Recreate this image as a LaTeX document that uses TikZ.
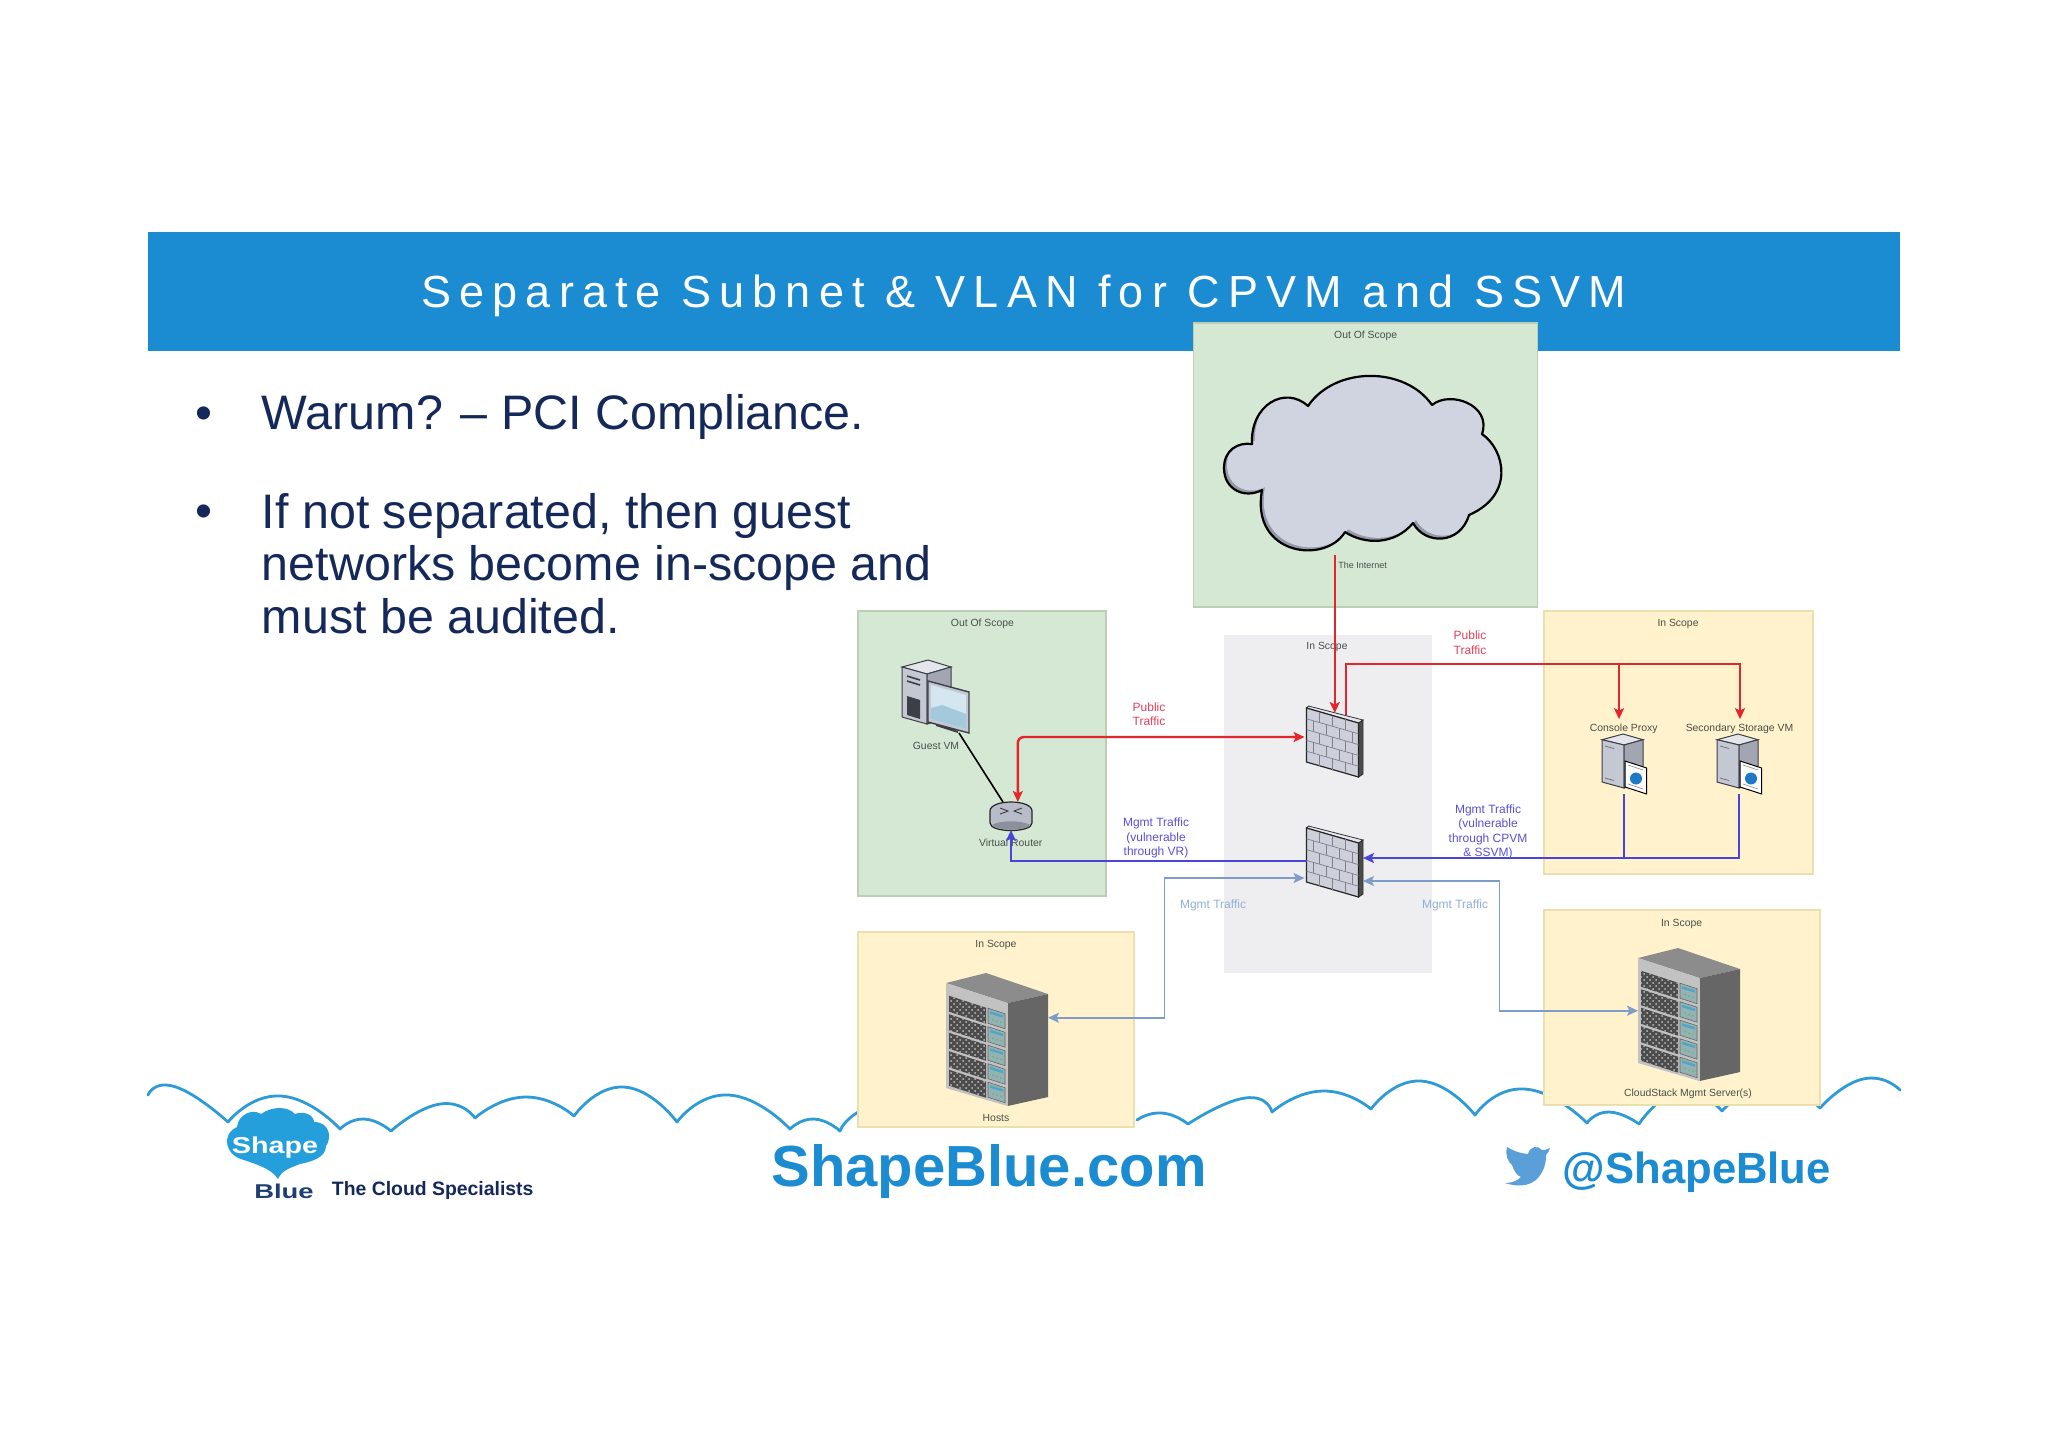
\documentclass[tikz,border=0pt]{standalone}
\usepackage{fontspec}
\setmainfont{Liberation Sans}
\newfontfamily\titlef{Liberation Sans}[LetterSpace=18]
\usetikzlibrary{arrows.meta,fit,patterns}
\definecolor{hdr}{HTML}{1B8BD2}
\definecolor{navy}{HTML}{14285A}
\definecolor{logob}{HTML}{1F3F73}
\definecolor{logoc}{HTML}{259FDC}
\definecolor{bird}{HTML}{5B9FD8}
\definecolor{scal}{HTML}{2E9BD6}
\definecolor{gfill}{HTML}{D5E8D4}
\definecolor{gline}{HTML}{BCCFB4}
\definecolor{yfill}{HTML}{FFF2CC}
\definecolor{yline}{HTML}{EADFAE}
\definecolor{grayz}{HTML}{EEEEF0}
\definecolor{redl}{HTML}{E3262B}
\definecolor{redt}{HTML}{E0405A}
\definecolor{bluel}{HTML}{4A44D8}
\definecolor{bluet}{HTML}{5A50D8}
\definecolor{lbl}{HTML}{7F9CC8}
\definecolor{lbt}{HTML}{8FAFD8}
\definecolor{txt}{HTML}{4A4F4A}
\definecolor{brick}{HTML}{CDD0DA}
\definecolor{bricktop}{HTML}{E6E8EE}
\definecolor{brickline}{HTML}{7E818C}
\definecolor{cloudf}{HTML}{D0D3E0}
\definecolor{cloudd}{HTML}{9499A8}
\definecolor{srvtop}{HTML}{E4E6EC}
\definecolor{srvleft}{HTML}{C4C8D2}
\definecolor{srvright}{HTML}{A2A6B2}
\definecolor{srvdark}{HTML}{3C3F48}
\definecolor{screenA}{HTML}{D4E6F0}
\definecolor{screenB}{HTML}{A4C8DC}
\definecolor{globe}{HTML}{1F78C4}
\definecolor{panel}{HTML}{93B2B2}
\definecolor{panelbar}{HTML}{4FA6C8}
\definecolor{paneldot}{HTML}{6CA886}
\definecolor{rtrf}{HTML}{B8BCC8}
\definecolor{rtrd}{HTML}{8C909C}
\newcommand{\px}[2]{\fontsize{#1}{#2}\selectfont}
\tikzset{
  region/.style={inner sep=0pt,outer sep=0pt,line width=0.8pt},
  ok/.style={region,fill=gfill,draw=gline},
  scoped/.style={region,fill=yfill,draw=yline},
  grayzone/.style={region,fill=grayz},
  icon/.style={inner sep=0pt,outer sep=0pt},
  small/.style={text=txt,font=\px{5.2}{6},inner sep=0pt,yshift=-0.7pt},
  traffic/.style={font=\px{6}{7.2},inner sep=0pt,align=center},
  tip/.style={-{Stealth[length=5.5pt,width=5pt,inset=1.2pt]}},
  both/.style={{Stealth[length=5.5pt,width=5pt,inset=1.2pt]}-{Stealth[length=5.5pt,width=5pt,inset=1.2pt]}},
  redc/.style={draw=redl,line width=1.1pt},
  bluec/.style={draw=bluel,line width=1pt},
  lbc/.style={draw=lbl,line width=0.8pt},
  scallop/.style={draw=scal,line width=1.4pt,line cap=round},
  firewall/.pic={
    \fill[draw=black!80,line width=.4pt,fill=bricktop] (0,2)--(2,0)--(56.5,14)--(52,17)--cycle;
    \fill[draw=black!80,line width=.4pt,fill=black!70] (52,17)--(56.5,14)--(56.5,68)--(52,71)--cycle;
    \fill[draw=black!85,line width=.6pt,fill=brick] (0,2)--(52,17)--(52,71)--(0,56)--cycle;
    \foreach \r in {1,2,3,4}{\pgfmathsetmacro\yy{2+10.8*\r}\pgfmathsetmacro\zz{17+10.8*\r}
      \draw[brickline,line width=.35pt] (0,\yy)--(52,\zz);}
    \foreach \r/\xa/\xb/\xc/\xd in {0/13/26/39/39,1/6.5/19.5/32.5/45.5,2/13/26/39/39,3/6.5/19.5/32.5/45.5,4/13/26/39/39}{
      \foreach \q in {\xa,\xb,\xc,\xd}{\pgfmathsetmacro\ya{2+10.8*\r+\q*0.288}\pgfmathsetmacro\yb{\ya+10.8}
        \draw[brickline,line width=.35pt] (\q,\ya)--(\q,\yb);}}
  },
  rack/.pic={
    \fill[fill=black!45] (0,10)--(40,0)--(102,21)--(61.5,30)--cycle;
    \fill[fill=black!60] (61.5,30)--(102,21)--(102,124)--(61.5,133)--cycle;
    \fill[fill=black!24] (0,10)--(61.5,30)--(61.5,133)--(0,115)--cycle;
    \foreach \i in {0,...,4}{\pgfmathsetmacro\dy{21.7+18.5*\i}
      \path[fill=black!70] (3,\dy+1)--(40,\dy+13)--(40,\dy+29)--(3,\dy+17)--cycle;
      \path[pattern=crosshatch dots,pattern color=black!25] (3,\dy+1)--(40,\dy+13)--(40,\dy+29)--(3,\dy+17)--cycle;
      \fill[draw=black!60,line width=.3pt,fill=panel] (42,\dy+13.5)--(59,\dy+19)--(59,\dy+34)--(42,\dy+28.5)--cycle;
      \fill[fill=panelbar] (44,\dy+16.5)--(57,\dy+20.5)--(57,\dy+23)--(44,\dy+19)--cycle;
      \fill[fill=paneldot] (47,\dy+25) circle (.8) (51,\dy+26.5) circle (.8) (55,\dy+27.5) circle (.8);
    }
  },
  proxy/.pic={
    \fill[draw=srvdark,line width=.5pt,fill=srvtop] (0,5.7)--(21,0)--(41,5.7)--(22,11)--cycle;
    \fill[draw=srvdark,line width=.5pt,fill=srvleft] (0,5.7)--(22,11)--(22,54)--(0,48)--cycle;
    \fill[draw=srvdark,line width=.5pt,fill=srvright] (22,11)--(41,5.7)--(41,48)--(22,54)--cycle;
    \draw[black!55,line width=.4pt] (3,12)--(12,14.5) (3,44)--(12,46.5);
    \fill[draw=black,line width=.5pt,fill=white] (23,27)--(44.7,34)--(44.7,60)--(23,53)--cycle;
    \draw[black!50,line width=.3pt] (26,31)--(41,36) (26,50)--(41,55);
    \fill[globe] (34,44.5) circle (6);
  },
  guest/.pic={
    \fill[draw=srvdark,line width=.5pt,fill=srvtop] (0,7)--(26,0)--(49,7)--(25,14)--cycle;
    \fill[draw=srvdark,line width=.5pt,fill=srvleft] (0,7)--(25,14)--(25,64)--(0,57)--cycle;
    \fill[draw=srvdark,line width=.5pt,fill=srvright] (25,14)--(49,7)--(49,57)--(25,64)--cycle;
    \draw[srvdark,line width=.8pt] (5,16)--(18,20) (5,21)--(18,25);
    \fill[srvdark] (5,36)--(18,40)--(18,59)--(5,55)--cycle;
    \fill[srvdark] (34,63)--(56,71)--(56,73)--(34,66)--cycle;
    \fill[draw=srvdark,line width=.7pt,fill=srvleft] (26,21)--(67,32)--(67,73)--(26,62)--cycle;
    \fill[fill=screenA] (29,25)--(64,35)--(64,69)--(29,59)--cycle;
    \fill[fill=screenB] (29,48)--(40,45)--(64,54)--(64,69)--(29,59)--cycle;
  },
}
\def\cloudshape{(1308,406) .. controls (1335,366) and (1405,366) .. (1432,405)
  .. controls (1450,390) and (1492,405) .. (1482,434)
  .. controls (1505,450) and (1515,495) .. (1469,515)
  .. controls (1460,545) and (1425,545) .. (1413,523)
  .. controls (1395,545) and (1365,545) .. (1345,532)
  .. controls (1325,565) and (1250,555) .. (1262,490)
  .. controls (1245,499) and (1224,490) .. (1224,468)
  .. controls (1224,450) and (1238,442) .. (1252,444)
  .. controls (1250,405) and (1285,385) .. cycle}
\begin{document}
\begin{tikzpicture}[x=0.5pt,y=-0.5pt]
\useasboundingbox (0,0) rectangle (2048,1448);
\fill[white] (0,0) rectangle (2048,1448);
% header
\node[fit={(148,232)(1900,351)},inner sep=0pt,outer sep=0pt,fill=hdr] (header) {};
\node[text=white,inner sep=0pt] (title) at (1024,296) {\titlef\px{22.5}{27}Separate Subnet \& VLAN for CPVM and SSVM};
% body text
\node[text=navy,inner sep=0pt,font=\px{24.2}{28}] (b1) at (204,418) {•};
\node[text=navy,inner sep=0pt,font=\px{24.2}{28}] (b2) at (204,516) {•};
\node[text=navy,inner sep=0pt,anchor=west,font=\px{24.2}{28}] (t1) at (261.5,417) {Warum? – PCI Compliance.};
\node[text=navy,inner sep=0pt,anchor=west,align=left,font=\px{24.2}{26.25}] (t2) at (261.5,563.5) {If not separated, then guest\\networks become in-scope and\\must be audited.};
% footer scallops
\foreach \xa/\ya/\xp/\yp/\xb/\yb in {
 148/1095/176/1087/228/1122, 228/1122/281/1096/340/1129, 340/1129/364/1119/391/1131,
 391/1131/440/1104/475/1118, 475/1118/525/1097/574/1116, 574/1116/624/1087/677/1122,
 677/1122/729/1095/790/1129, 790/1129/814/1119/840/1131, 840/1131/860/1111/900/1098,
 1137/1120/1162/1113/1188/1124, 1188/1124/1245/1098/1272/1112, 1272/1112/1322/1091/1371/1109,
 1371/1109/1421/1081/1475/1115, 1475/1115/1525/1089/1587/1123, 1587/1123/1609/1112/1639/1124,
 1639/1124/1680/1092/1722/1111, 1722/1111/1770/1085/1820/1108, 1820/1108/1863/1079/1900/1090}{
  \draw[scallop] plot[smooth,tension=1] coordinates {(\xa,\ya)(\xp,\yp)(\xb,\yb)};
}
% logo
\fill[fill=logoc] (278,1179) .. controls (272,1170) and (262,1166) .. (244,1160)
  .. controls (226,1156) and (220,1135) .. (237,1127)
  .. controls (238,1115) and (252,1108) .. (261,1114)
  .. controls (272,1106) and (288,1106) .. (295,1114)
  .. controls (305,1110) and (314,1116) .. (314,1122)
  .. controls (330,1122) and (332,1138) .. (326,1146)
  .. controls (326,1158) and (310,1162) .. (300,1164)
  .. controls (290,1168) and (282,1170) .. cycle;
\node[text=white,inner sep=0pt,font=\bfseries\px{11.5}{13},xscale=1.25] (shape) at (275,1148) {Shape};
\node[text=logob,inner sep=0pt,font=\bfseries\px{10}{12},xscale=1.37] (blue) at (284,1191) {Blue};
\node[text=navy,inner sep=0pt,anchor=west,font=\bfseries\px{9.7}{11}] (spec) at (331.5,1190) {The Cloud Specialists};
\node[text=hdr,inner sep=0pt,font=\bfseries\px{29}{34}] (site) at (989,1171) {ShapeBlue.com};
\node[text=hdr,inner sep=0pt,anchor=west,font=\bfseries\px{21.8}{26}] (handle) at (1562.5,1172) {@ShapeBlue};
% twitter bird
\fill[fill=bird] (1550,1148) .. controls (1545,1150) and (1545,1150) .. (1542,1150)
  .. controls (1538,1145) and (1530,1146) .. (1528,1154)
  .. controls (1518,1153) and (1512,1150) .. (1507,1147)
  .. controls (1505,1155) and (1508,1162) .. (1512,1165)
  .. controls (1514,1172) and (1518,1176) .. (1521,1177)
  .. controls (1516,1182) and (1510,1183) .. (1505,1183)
  .. controls (1520,1188) and (1535,1186) .. (1542,1172)
  .. controls (1546,1165) and (1546,1158) .. (1546,1155)
  .. controls (1548,1153) and (1549,1151) .. cycle;
% regions
\node[grayzone,fit={(1223.5,635)(1431.7,973)}] (zoneC) {};
\node[ok,fit={(1193.3,322.7)(1537.3,606.7)}] (zoneI) {};
\node[ok,fit={(858,611)(1106,896)}] (zoneG) {};
\node[scoped,fit={(858,932)(1134,1127)}] (zoneH) {};
\node[scoped,fit={(1544,611)(1813,874)}] (zoneS) {};
\node[scoped,fit={(1544,910)(1820,1105)}] (zoneM) {};
\node[small] (lI) at (1365.7,334) {Out Of Scope};
\node[small] (lG) at (982.4,622.7) {Out Of Scope};
\node[small] (lC) at (1327,645.7) {In Scope};
\node[small] (lS) at (1678,622.7) {In Scope};
\node[small] (lH) at (996,944) {In Scope};
\node[small] (lM) at (1681.6,922.3) {In Scope};
% cloud
\begin{scope}
  \clip \cloudshape;
  \fill[fill=cloudd] (1200,360) rectangle (1520,560);
  \begin{scope}[shift={(3,-3)}]
    \fill[fill=cloudf] \cloudshape;
  \end{scope}
\end{scope}
\draw[black,line width=1.1pt,line join=round] \cloudshape;
\node[icon,fit={(1224,376)(1501,552)}] (cloud) {};
\node[small,anchor=west,yshift=0.7pt,font=\px{4.5}{6}] (inet) at (1338,565.7) {The Internet};
% icons
\path (1306.5,706) pic {firewall};
\path (1306.5,826) pic {firewall};
\node[icon,fit={(1306.5,706)(1363,775)}] (fwA) {};
\node[icon,fit={(1306.5,826)(1363,896)}] (fwB) {};
\path (902,660) pic {guest};
\node[icon,fit={(902,660)(969,733)}] (vm) {};
\node[small] (lvm) at (936,744) {Guest VM};
\draw[fill=rtrf,draw=black!85,line width=.6pt] (990,811) -- (990,823) .. controls (990,833) and (1032,833) .. (1032,823) -- (1032,811) .. controls (1032,799) and (990,799) .. (990,811) -- cycle;
\fill[fill=rtrd] (992,825) .. controls (1000,820) and (1022,820) .. (1030,825) .. controls (1025,831) and (997,831) .. (992,825) -- cycle;
\draw[black!80,line width=.4pt] (1000,808) -- (1008,811) -- (1000,814) (1022,808) -- (1014,811) -- (1022,814);
\node[icon,fit={(990,802)(1032,830)}] (router) {};
\node[small] (lr) at (1010.7,841) {Virtual Router};
\path (1602,734) pic {proxy};
\path (1717,734) pic {proxy};
\node[icon,fit={(1602,734)(1646.7,794)}] (sv1) {};
\node[icon,fit={(1717,734)(1761.7,794)}] (sv2) {};
\node[small] (ls1) at (1623.7,727) {Console Proxy};
\node[small] (ls2) at (1739.5,727) {Secondary Storage VM};
\path (946,973) pic {rack};
\path (1638,948) pic {rack};
\node[icon,fit={(946,973)(1048,1106)}] (hosts) {};
\node[icon,fit={(1638,948)(1740,1081)}] (mgmt) {};
\node[small] (lhs) at (996,1117) {Hosts};
\node[small] (lcs) at (1688,1092) {CloudStack Mgmt Server(s)};
% connectors
\coordinate (inetOut) at (fwA.north |- 0,555);
\coordinate (busC) at (1619,664);
\coordinate (busS) at (1740,664);
\coordinate (tipC) at ([yshift=2pt]ls1.north);
\coordinate (tipS) at ([yshift=2pt]ls2.north);
\coordinate (leftBus) at (1164.6,950);
\coordinate (rightBus) at (1499.6,950);
\draw[redc,tip] (inetOut) -- ([yshift=-3.5pt]fwA.north);
\draw[redc,tip] ([shift={(5.6pt,-4.5pt)}]fwA.north) |- (busS) -- (busS |- tipS);
\draw[redc,tip] (busC) -- (busC |- tipC);
\draw[redc,both,line width=1.2pt,rounded corners=3pt] ([shift={(-1pt,1.75pt)}]fwA.west) -| ([xshift=3.4pt]router.north);
\draw[black,line width=.8pt] ([xshift=-5pt]vm.south east) -- ([xshift=-4pt]router.north);
\draw[bluec,tip] (fwB.west) -| (router.south);
\draw[bluec,tip] (sv2.south) |- ([yshift=1.5pt]fwB.east);
\draw[bluec] (sv1.south) -- (sv1.south |- 0,858);
\draw[lbc,both] ([shift={(-1pt,-8.5pt)}]fwB.west) -| (leftBus) |- ([yshift=10.9pt]hosts.east);
\draw[lbc,both] ([yshift=-10pt]fwB.east) -| (rightBus) |- ([yshift=1.9pt]mgmt.west);
% connector labels
\node[traffic,text=redt] (p1) at (1149,714) {Public\\Traffic};
\node[traffic,text=redt] (p2) at (1470,642.5) {Public\\Traffic};
\node[traffic,text=bluet] (m1) at (1156,838) {Mgmt Traffic\\(vulnerable\\through VR)};
\node[traffic,text=bluet] (m2) at (1488,832) {Mgmt Traffic\\(vulnerable\\through CPVM\\\& SSVM)};
\node[traffic,text=lbt] (m3) at (1213,905) {Mgmt Traffic};
\node[traffic,text=lbt] (m4) at (1455,905) {Mgmt Traffic};
\end{tikzpicture}
\end{document}
